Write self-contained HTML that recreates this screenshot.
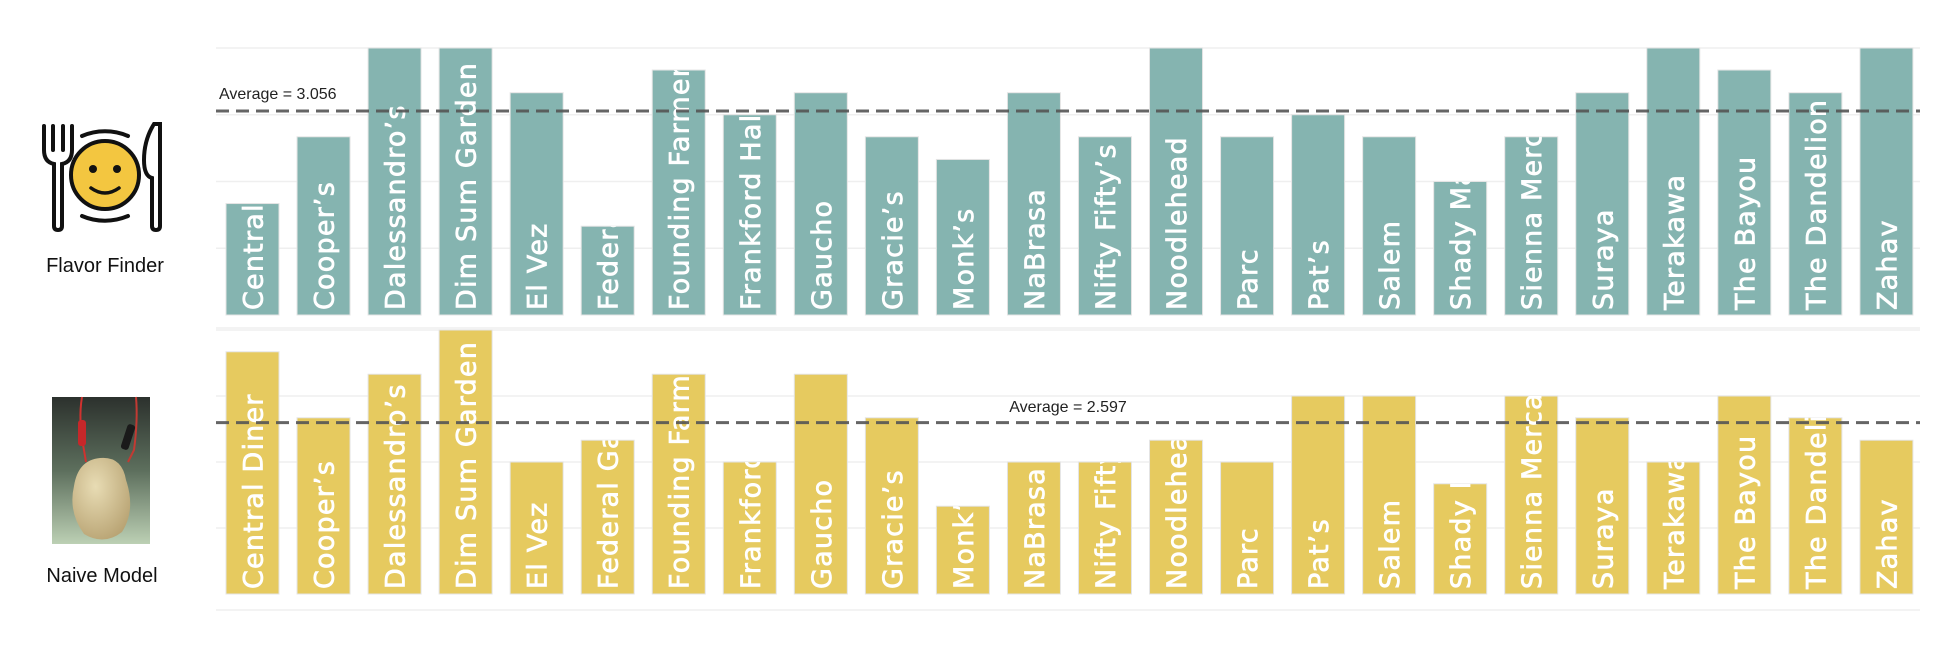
<!DOCTYPE html>
<html><head><meta charset="utf-8"><style>
html,body{margin:0;padding:0;background:#fff;}
svg{display:block;}
</style></head><body>
<svg id="chart" width="1952" height="654" viewBox="0 0 1952 654" xmlns="http://www.w3.org/2000/svg">
  <defs>
    <linearGradient id="potbg" x1="0" y1="0" x2="0" y2="1">
      <stop offset="0" stop-color="#2c312d"/>
      <stop offset="0.5" stop-color="#5d6f5d"/>
      <stop offset="1" stop-color="#bcd0b4"/>
    </linearGradient>
    <radialGradient id="potato" cx="0.4" cy="0.35" r="0.7">
      <stop offset="0" stop-color="#e8dcb4"/>
      <stop offset="1" stop-color="#b9a474"/>
    </radialGradient>
  </defs>
  <g id="grid"></g>
  <g id="bars"></g>
  <g id="avg"></g>

  <g fill="none" stroke="#111" stroke-width="4" stroke-linecap="round">
    <path d="M44 126 L44 150 Q44 162 54 164 L54 226 Q54 230 58 230 Q62 230 62 226 L62 164 Q72 162 72 150 L72 126 M53 126 L53 150 M63 126 L63 150"/>
    <path d="M154 124 Q144 140 144 160 Q144 176 152 178 L152 226 Q152 230 156 230 Q160 230 160 226 L160 124 Z"/>
    <path d="M82 136 A58 58 0 0 1 128 136"/>
    <path d="M82 216 A58 58 0 0 0 128 216"/>
    <circle cx="105" cy="175" r="34" fill="#f3c640" stroke-width="4"/>
    <circle cx="93" cy="169" r="4" fill="#111" stroke="none"/>
    <circle cx="117" cy="169" r="4" fill="#111" stroke="none"/>
    <path d="M91 188 Q105 198 119 188" stroke-width="3.5"/>
  </g>
  <text x="105" y="272" text-anchor="middle" font-family="Liberation Sans, sans-serif" font-size="20" fill="#111">Flavor Finder</text>

  <g>
    <rect x="52" y="397" width="98" height="147" fill="url(#potbg)"/>
    <path d="M82 397 Q78 420 84 450 L86 462" stroke="#d0322f" stroke-width="2" fill="none"/>
    <path d="M136 397 Q138 420 134 450 L128 462" stroke="#c23a33" stroke-width="2" fill="none"/>
    <rect x="78" y="420" width="8" height="26" rx="3" fill="#c6282a"/>
    <rect x="124" y="424" width="8" height="26" rx="3" fill="#1a1a1a" transform="rotate(18 128 437)"/>
    <path d="M100 458 Q122 456 126 480 Q136 510 122 532 Q104 546 84 534 Q68 512 74 486 Q78 460 100 458 Z" fill="url(#potato)"/>
  </g>
  <text x="102" y="582" text-anchor="middle" font-family="Liberation Sans, sans-serif" font-size="20" fill="#111">Naive Model</text>
</svg>
<script>
const categories = ["Central","Cooper\u2019s","Dalessandro\u2019s","Dim Sum Garden","El Vez","Federal Galley","Founding Farmers","Frankford Hall","Gaucho","Gracie\u2019s","Monk\u2019s","NaBrasa","Nifty Fifty\u2019s","Noodlehead","Parc","Pat\u2019s","Salem","Shady Maple","Sienna Mercato","Suraya","Terakawa","The Bayou","The Dandelion","Zahav"];
const bottomCategories = ["Central Diner","Cooper\u2019s","Dalessandro\u2019s","Dim Sum Garden","El Vez","Federal Galley","Founding Farmers","Frankford Hall","Gaucho","Gracie\u2019s","Monk\u2019s","NaBrasa","Nifty Fifty\u2019s","Noodlehead","Parc","Pat\u2019s","Salem","Shady Maple","Sienna Mercato","Suraya","Terakawa","The Bayou","The Dandelion","Zahav"];
const flavorFinderValues = [1.67,2.67,4,4,3.33,1.33,3.67,3,3.33,2.67,2.33,3.33,2.67,4,2.67,3,2.67,2,2.67,3.33,4,3.67,3.33,4];
const naiveModelValues = [3.67,2.67,3.33,4,2,2.33,3.33,2,3.33,2.67,1.33,2,2,2.33,2,3,3,1.67,3,2.67,2,3,2.67,2.33];
const flavorFinderAverage = 3.056;
const naiveModelAverage = 2.597;
const gridTicks = [0,1,2,3,4];
const averageLabels = ["Average = 3.056","Average = 2.597"];

const NS = "http://www.w3.org/2000/svg";
const plotLeft = 216, plotRight = 1920, firstBar = 226, step = 71.04, barW = 53;
const panels = [
  {name:"flavor-finder", vals:flavorFinderValues, cats:categories, avg:flavorFinderAverage, y0:315, y4:48, bottomLine:328, color:"#85b4b0", label:averageLabels[0], lx:219, ly:99, anchor:"start"},
  {name:"naive-model", vals:naiveModelValues, cats:bottomCategories, avg:naiveModelAverage, y0:594, y4:330, bottomLine:610, color:"#e6ca5f", label:averageLabels[1], lx:1068, ly:412, anchor:"middle"}
];
function xPos(i){ return firstBar + i*step; }
function yScale(p, v){ return p.y0 - v*(p.y0 - p.y4)/4; }
function mk(tag, attrs, parent){
  const e = document.createElementNS(NS, tag);
  for (const k in attrs) e.setAttribute(k, attrs[k]);
  parent.appendChild(e);
  return e;
}
const gGrid = document.getElementById('grid');
const gBars = document.getElementById('bars');
const gAvg = document.getElementById('avg');
const defs = document.querySelector('defs');

panels.forEach((p, pi) => {
  gridTicks.forEach(t => {
    if (t === 0) return;
    const l = mk('line', {x1:plotLeft, x2:plotRight, y1:yScale(p,t), y2:yScale(p,t), stroke:'#efefef', 'stroke-width':1.5}, gGrid);
    
    
  });
  const bl = mk('line', {x1:plotLeft, x2:plotRight, y1:p.bottomLine, y2:p.bottomLine, stroke:'#efefef', 'stroke-width':1.5}, gGrid);
  
  

  p.vals.forEach((v, i) => {
    const x = xPos(i), yt = yScale(p, v), h = p.y0 - yt;
    const cid = 'clip' + pi + '_' + i;
    const cp = mk('clipPath', {id:cid}, defs);
    mk('rect', {x:x, y:yt, width:barW, height:h}, cp);
    const g = mk('g', {}, gBars);
    
    
    const r = mk('rect', {x:x, y:yt, width:barW, height:h, fill:p.color, stroke:'#e4e4e4', 'stroke-width':1}, g);
    
    
    const cg = mk('g', {'clip-path':'url(#'+cid+')'}, g);
    
    
    const tx = x + barW/2 + 10, ty = p.y0 - 5;
    const t = mk('text', {x:tx, y:ty, transform:'rotate(-90 '+tx+' '+ty+')', fill:'#ffffff', stroke:'#ffffff', 'stroke-width':0.7, 'font-family':'DejaVu Sans, sans-serif', 'font-size':27, 'letter-spacing':1.2}, cg);
    
    
    t.textContent = p.cats[i];
  });

  const ya = yScale(p, p.avg);
  const al = mk('line', {x1:plotLeft, x2:plotRight, y1:ya, y2:ya, stroke:'#555', 'stroke-width':3, 'stroke-dasharray':'13 7', opacity:0.9}, gAvg);
  
  
  const at = mk('text', {x:p.lx, y:p.ly, 'text-anchor':p.anchor, fill:'#222', 'font-family':'Liberation Sans Narrow, Liberation Sans, sans-serif', 'font-size':16}, gAvg);
  
  
  at.textContent = p.label;
});
</script>
</body></html>
